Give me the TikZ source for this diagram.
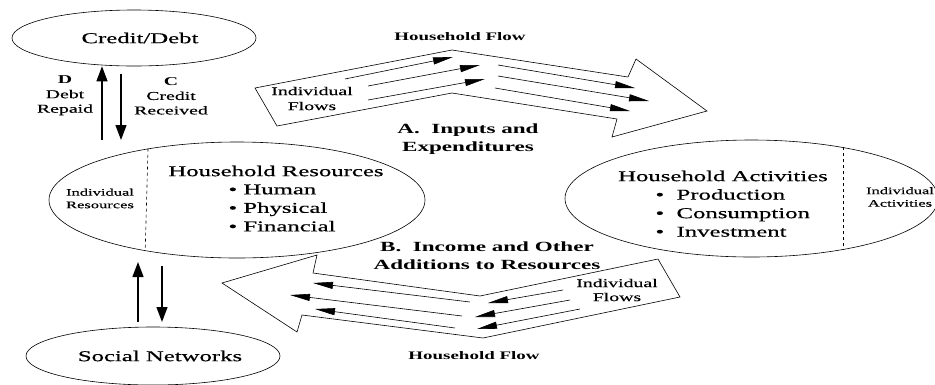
\documentclass[tikz,border=0pt]{standalone}
\usepackage{fontspec}
\setmainfont{Liberation Serif}[FakeStretch=1.65,UprightFeatures={FakeBold=0.5}]
\usetikzlibrary{shapes.geometric,arrows.meta}

\begin{document}
\begin{tikzpicture}[x=1pt,y=-1pt,
    oval/.style={shape=ellipse,draw=black,line width=0.6pt,inner sep=0pt},
    titletxt/.style={font=\fontsize{15}{18}\selectfont},
    listtxt/.style={font=\fontsize{15}{18.5}\selectfont,align=left,anchor=west},
    smalltxt/.style={font=\fontsize{10}{12.5}\selectfont,align=center},
    labeltxt/.style={font=\fontsize{12}{14.5}\selectfont,align=center},
    captiontxt/.style={font=\bfseries\fontsize{14}{18}\selectfont,align=center},
    flowtxt/.style={font=\bfseries\fontsize{11.5}{14}\selectfont},
    thick arrow/.style={-{Triangle[length=15pt,width=11pt]},line width=1.3pt},
    thin arrow/.style={-{Triangle[length=20pt,width=7pt]},line width=0.6pt},
    bigflow/.style={draw=black,line width=0.6pt,line join=miter}]
    \useasboundingbox (0,0) rectangle (935,384);

    % Draw ellipses
    \node[oval,minimum width=244pt,minimum height=56pt] (credit) at (134,38) {};
    \node[oval,minimum width=376pt,minimum height=116pt] (res) at (237,200) {};
    \node[oval,minimum width=373pt,minimum height=117pt] (act) at (751.5,198.5) {};
    \node[oval,minimum width=254pt,minimum height=58pt] (social) at (153,356) {};
    \draw[dashed,line width=0.6pt] (res.150.2) -- (res.209.8);
    \draw[dashed,line width=0.6pt] (act.29.5) -- (act.-29.5);

    % Ellipse texts
    \node[titletxt] (creditlbl) at (140,38) {Credit/Debt};
    \node[titletxt] (restitle) at (276,171) {Household Resources};
    \node[listtxt] (reslist) at (225,208) {•~Human\\•~Physical\\•~Financial};
    \node[smalltxt] (indres) at (100,198.5) {Individual\\Resources};
    \node[titletxt] (acttitle) at (723,176) {Household Activities};
    \node[listtxt] (actlist) at (652,213) {•~~Production\\•~~Consumption\\•~~Investment};
    \node[smalltxt] (indact) at (900,197) {Individual\\Activities};
    \node[titletxt] (sociallbl) at (160,356) {Social Networks};

    % Credit and social arrows
    \node[labeltxt] (repaid) at (65,95.5) {\textbf{D}\\Debt\\Repaid};
    \node[labeltxt] (received) at (171,96) {\textbf{C}\\Credit\\Received};
    \coordinate (repaidfoot) at (102,140);
    \coordinate (receivedtop) at (121,74);
    \coordinate (receivedfoot) at (121,140);
    \draw[thick arrow] (repaidfoot) -- (repaidfoot |- credit.south);
    \draw[thick arrow] (receivedtop) -- (receivedfoot);
    \coordinate (givenfoot) at (138,322);
    \coordinate (giventop) at (138,262);
    \coordinate (gottop) at (162,266);
    \coordinate (gotfoot) at (162,322);
    \draw[thick arrow] (givenfoot) -- (giventop);
    \draw[thick arrow] (gottop) -- (gotfoot);

    % Draw big flow arrows
    \draw[bigflow] (255,88) -- (452,50) -- (628,77) -- (636,59) -- (707,111)
        -- (612,137) -- (617,119) -- (452,93) -- (277,126) -- cycle;
    \draw[bigflow] (222,283) -- (317,255) -- (313,273) -- (480,296) -- (658,259)
        -- (680,297) -- (483,338) -- (302,315) -- (297,332) -- cycle;

    % Draw individual flows
    \foreach \sx/\sy/\ex/\ey in {345/79/453/57, 368/86/480/65, 368/100/485/79,
        498/65/635/88, 498/76/649/101, 495/88/630/111,
        563/290/488/303, 570/300/475/317, 580/309/477/329,
        470/302/313/283, 462/316/290/295, 455/328/315/309} {
        \draw[thin arrow] (\sx,\sy) -- (\ex,\ey);
    }

    % Flow labels
    \node[flowtxt] (hhflowtop) at (460,37) {Household Flow};
    \node[labeltxt,font=\fontsize{12}{15}\selectfont] (indflowtop) at (312,98.5) {Individual\\Flows};
    \node[captiontxt] (inputs) at (468,139) {A.~~Inputs and\\Expenditures};
    \node[captiontxt] (income) at (487,256) {B.~~Income and Other\\Additions to Resources};
    \node[labeltxt,font=\fontsize{12}{14}\selectfont] (indflowbot) at (617,290) {Individual\\Flows};
    \node[flowtxt] (hhflowbot) at (474,356) {Household Flow};
\end{tikzpicture}
\end{document}
